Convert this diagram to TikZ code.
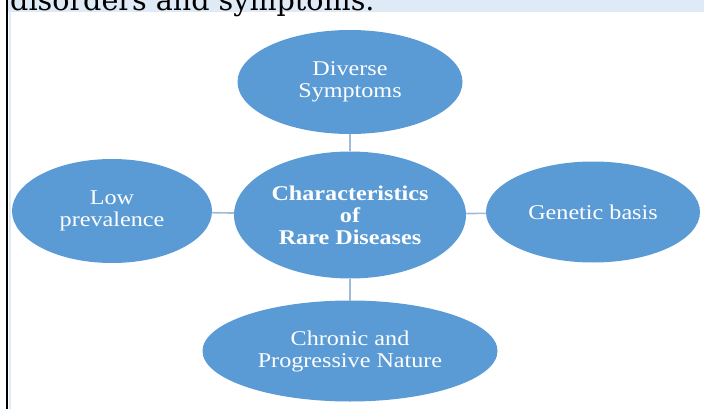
\documentclass[tikz,border=0pt]{standalone}
\usepackage{fontspec}
\newfontfamily\bubblefont[FakeStretch=1.15]{Liberation Serif}
\newfontfamily\stripfont{DejaVu Serif}
\usetikzlibrary{shapes.geometric}
\definecolor{bubbleblue}{RGB}{91,155,213}
\definecolor{linkblue}{RGB}{160,186,216}
\definecolor{stripblue}{RGB}{222,234,246}

\begin{document}
\begin{tikzpicture}[x=1pt, y=-1pt,
  bubble/.style={ellipse, fill=bubbleblue, text=white, inner sep=0pt, outer sep=0pt,
                 align=center, font=\bubblefont\fontsize{21}{22}\selectfont},
  hub/.style={bubble, font=\bubblefont\bfseries\fontsize{21}{22}\selectfont},
  link/.style={linkblue, line width=1.6pt}]

\useasboundingbox (0,0) rectangle (704,409);
\clip (0,0) rectangle (704,409);

%==================================================
% Page strip and frame
%==================================================
\fill[stripblue] (8,0) rectangle (704,12);
\node[anchor=base west, inner sep=0pt, font=\stripfont\fontsize{28.6}{30}\selectfont]
  (caption) at (10,10.5) {disorders and symptoms.};
\draw[stripblue, line width=2pt] (10,12) -- (10,409);
\draw[black, line width=2.2pt] (7,0) -- (7,409);

%==================================================
% Ellipses
%==================================================
\node[hub, minimum width=232pt, minimum height=127pt] (rare) at (350,215)
  {Characteristics\\of\\Rare Diseases};

\node[bubble, minimum width=225pt, minimum height=104pt] (symptoms) at (350,82)
  {Diverse\\Symptoms};
\node[bubble, minimum width=200pt, minimum height=104pt] (prevalence) at (112,211)
  {Low\\prevalence};
\node[bubble, minimum width=214pt, minimum height=101pt] (genetic) at (593,212)
  {Genetic basis};
\node[bubble, minimum width=295pt, minimum height=101pt] (chronic) at (350,351)
  {Chronic and\\Progressive Nature};

%==================================================
% Connectors
%==================================================
\draw[link] (rare) -- (symptoms);
\draw[link] (rare) -- (prevalence);
\draw[link] (rare) -- (genetic);
\draw[link] (rare) -- (chronic);

\end{tikzpicture}
\end{document}
